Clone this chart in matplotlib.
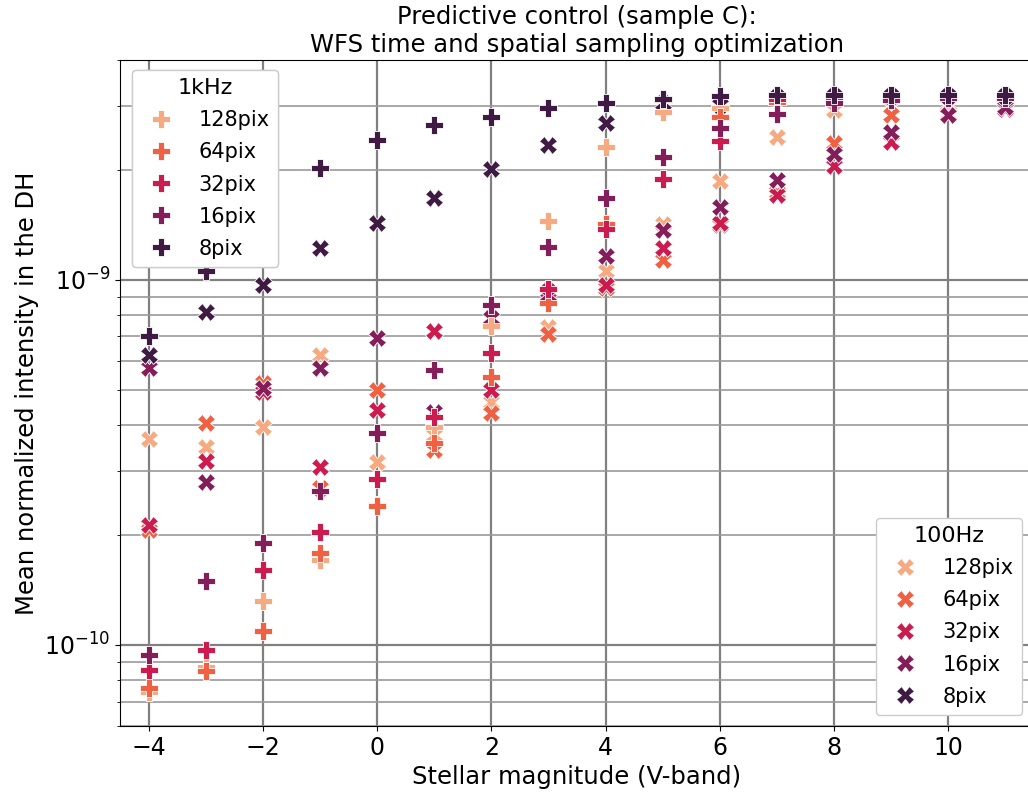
import matplotlib
matplotlib.use("Agg")
import matplotlib.pyplot as plt
from matplotlib.lines import Line2D
from matplotlib.ticker import NullFormatter, FixedLocator
import numpy as np

magnitudes = [-4, -3, -2, -1, 0, 1, 2, 3, 4, 5, 6, 7, 8, 9, 10, 11]
pix_labels = ["128pix", "64pix", "32pix", "16pix", "8pix"]
colors = ["#f6aa82", "#f06043", "#cb1b4f", "#841e5a", "#3f1b44"]

# 1kHz (plus markers)
khz1_128 = [7.44e-11, 8.71e-11, 1.32e-10, 1.71e-10, 2.42e-10, 3.96e-10, 7.48e-10, 1.45e-9,
            2.31e-9, 2.89e-9, 2.95e-9, 3.17e-9, 3.17e-9, 3.17e-9, 3.17e-9, 3.17e-9]
khz1_64 = [7.62e-11, 8.49e-11, 1.09e-10, 1.79e-10, 2.40e-10, 3.58e-10, 5.42e-10, 8.65e-10,
           1.42e-9, 3.11e-9, 2.80e-9, 3.07e-9, 3.15e-9, 3.15e-9, 3.15e-9, 3.15e-9]
khz1_32 = [8.55e-11, 9.69e-11, 1.60e-10, 2.04e-10, 2.85e-10, 4.21e-10, 6.31e-10, 9.45e-10,
           1.38e-9, 1.89e-9, 2.40e-9, 3.13e-9, 3.17e-9, 3.17e-9, 3.17e-9, 3.17e-9]
khz1_16 = [9.39e-11, 1.50e-10, 1.90e-10, 2.64e-10, 3.81e-10, 5.67e-10, 8.54e-10, 1.23e-9,
           1.68e-9, 2.17e-9, 2.61e-9, 2.85e-9, 3.05e-9, 3.11e-9, 3.15e-9, 3.15e-9]
khz1_8 = [7.03e-10, 1.06e-9, 1.45e-9, 2.03e-9, 2.42e-9, 2.66e-9, 2.80e-9, 2.96e-9,
          3.05e-9, 3.13e-9, 3.19e-9, 3.21e-9, 3.21e-9, 3.21e-9, 3.21e-9, 3.21e-9]

# 100Hz (x markers)
hz100_128 = [3.67e-10, 3.49e-10, 3.96e-10, 6.23e-10, 3.17e-10, 3.76e-10, 4.63e-10, 7.43e-10,
             1.06e-9, 1.42e-9, 1.86e-9, 2.46e-9, 2.92e-9, 3.15e-9, 3.17e-9, 3.17e-9]
hz100_64 = [2.07e-10, 4.06e-10, 5.22e-10, 2.69e-10, 5.00e-10, 3.42e-10, 4.32e-10, 7.11e-10,
            9.51e-10, 1.13e-9, 1.41e-9, 1.74e-9, 2.37e-9, 2.83e-9, 3.03e-9, 3.11e-9]
hz100_32 = [2.13e-10, 3.19e-10, 4.93e-10, 3.07e-10, 4.40e-10, 7.25e-10, 4.99e-10, 9.33e-10,
            9.69e-10, 1.22e-9, 1.43e-9, 1.71e-9, 2.05e-9, 2.39e-9, 2.85e-9, 2.94e-9]
hz100_16 = [5.74e-10, 2.80e-10, 5.06e-10, 5.74e-10, 6.94e-10, 4.35e-10, 7.87e-10, 9.10e-10,
            1.16e-9, 1.37e-9, 1.58e-9, 1.88e-9, 2.21e-9, 2.54e-9, 2.83e-9, 2.98e-9]
hz100_8 = [6.23e-10, 8.17e-10, 9.69e-10, 1.22e-9, 1.43e-9, 1.68e-9, 2.01e-9, 2.34e-9,
           2.69e-9, 3.05e-9, 3.02e-9, 3.17e-9, 3.19e-9, 3.19e-9, 3.19e-9, 3.19e-9]

khz1_series = [khz1_128, khz1_64, khz1_32, khz1_16, khz1_8]
hz100_series = [hz100_128, hz100_64, hz100_32, hz100_16, hz100_8]

FS = 17.5
TFS = 17
LFS = 15
plt.rcParams['font.family'] = ['DejaVu Sans']
plt.rcParams['font.size'] = FS

fig = plt.figure(figsize=(10.28, 7.93), dpi=100)
ax = fig.add_axes([120 / 1028, 67 / 793, 914 / 1028, 666 / 793])

ms = 12.5
for vals, c in zip(hz100_series, colors):
    ax.plot(magnitudes, vals, linestyle='none', marker='X', markersize=ms,
            color=c, markeredgecolor='white', markeredgewidth=0.6, zorder=3)
for vals, c in zip(khz1_series, colors):
    ax.plot(magnitudes, vals, linestyle='none', marker='P', markersize=ms,
            color=c, markeredgecolor='white', markeredgewidth=0.6, zorder=3)

ax.set_yscale('log')
ax.set_xlim(-4.5, 11.5)
ax.set_ylim(6e-11, 4e-9)
ax.set_xticks([-4, -2, 0, 2, 4, 6, 8, 10])
ax.yaxis.set_major_locator(FixedLocator([1e-10, 1e-9]))
minor_vals = [m * 1e-11 for m in range(6, 10)] + [m * 1e-10 for m in range(2, 10)] + \
             [m * 1e-9 for m in range(2, 5)]
ax.yaxis.set_minor_locator(FixedLocator(minor_vals))
ax.yaxis.set_minor_formatter(NullFormatter())
ax.grid(True, which='major', color='#808080', linewidth=1.6, zorder=0)
ax.grid(True, which='minor', axis='y', color='#999999', linewidth=1.2, zorder=0)
ax.set_axisbelow(True)
ax.tick_params(labelsize=TFS)

ax.set_xlabel("Stellar magnitude (V-band)", fontsize=FS)
ax.set_ylabel("Mean normalized intensity in the DH", fontsize=FS)
ax.set_title("Predictive control (sample C):\nWFS time and spatial sampling optimization",
             fontsize=FS)

h1 = [Line2D([], [], linestyle='none', marker='P', markersize=ms, color=c,
             markeredgecolor='white', markeredgewidth=0.6) for c in colors]
h2 = [Line2D([], [], linestyle='none', marker='X', markersize=ms, color=c,
             markeredgecolor='white', markeredgewidth=0.6) for c in colors]
leg1 = ax.legend(h1, pix_labels, title="1kHz", loc='upper left', fontsize=LFS,
                 title_fontsize=16, framealpha=1.0, handletextpad=0.8,
                 labelspacing=0.58, borderpad=0.4,
                 bbox_to_anchor=(132 / 1028, (793 - 70) / 793),
                 bbox_transform=fig.transFigure, borderaxespad=0)
ax.add_artist(leg1)
leg2 = fig.legend(h2, pix_labels, title="100Hz", loc='lower right', fontsize=LFS,
                  title_fontsize=16, framealpha=1.0, handletextpad=0.8,
                  labelspacing=0.58, borderpad=0.4, borderaxespad=0,
                  bbox_to_anchor=(1022 / 1028, (793 - 715) / 793))

fig.savefig("out.png", dpi=100)
